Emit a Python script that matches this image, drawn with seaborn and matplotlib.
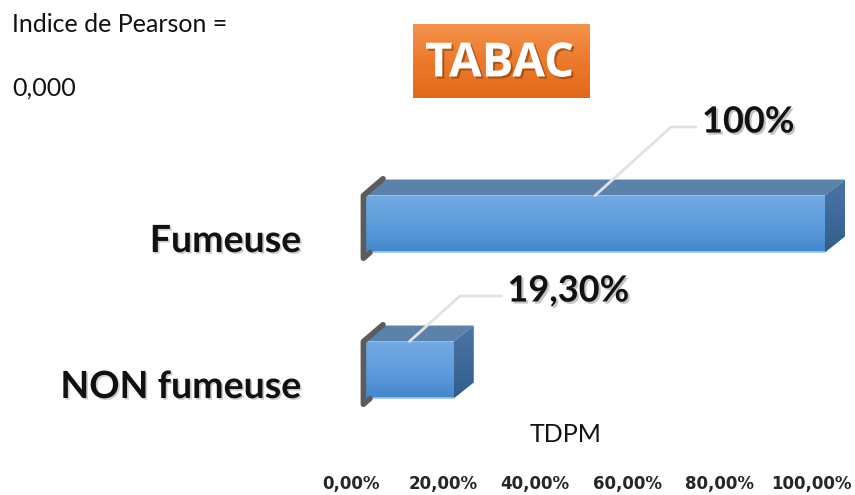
import numpy as np
import pandas as pd
import matplotlib
matplotlib.use("Agg")
import matplotlib.pyplot as plt
import matplotlib.patheffects as pe
from matplotlib.colors import LinearSegmentedColormap
from matplotlib.patches import Polygon
from matplotlib.transforms import ScaledTranslation
import seaborn as sns

# --- data -------------------------------------------------------------
categories = ["Fumeuse", "NON fumeuse"]
tdpm_values = [100.0, 19.3]          # TDPM in %
x_ticks = [0, 20, 40, 60, 80, 100]
x_tick_labels = ["0,00%", "20,00%", "40,00%", "60,00%", "80,00%", "100,00%"]
title_badge = "TABAC"
axis_title = "TDPM"
pearson_lines = ["Indice de Pearson =", "0,000"]

# label placement (offset in pixels from the middle of each bar's top edge)
label_offsets = [(107, 63), (98, 40)]


def fmt_pct(v):
    if float(v).is_integer():
        return f"{int(v)}%"
    return f"{v:.2f}".replace(".", ",") + "%"


sns.set_theme(style="white")
plt.rcParams["font.family"] = ["Lato", "DejaVu Sans"]

DPI = 100
W, H = 855, 495
fig = plt.figure(figsize=(W / DPI, H / DPI), dpi=DPI)

# plot area in pixels
left_px, right_px, top_px, bot_px = 365, 855, 100, 468
ax = fig.add_axes([left_px / W, 1 - bot_px / H,
                   (right_px - left_px) / W, (bot_px - top_px) / H])

df = pd.DataFrame({"cat": categories, "val": tdpm_values})
sns.barplot(data=df, x="val", y="cat", orient="h", ax=ax,
            width=0.39, color="#5b9bd5", saturation=1, zorder=2)

px_per_x = 4.6          # pixels per % unit
px_per_y = 146.0        # pixels per category step
xlim = (0, (right_px - left_px) / px_per_x)
ylim = ((bot_px - 224) / px_per_y, (top_px - 224) / px_per_y)

# 3D depth
dx = 20 / px_per_x
dy = 16 / px_per_y

front_cmap = LinearSegmentedColormap.from_list(
    "front", ["#73aae2", "#5f9ddd", "#4587cd"])
side_cmap = LinearSegmentedColormap.from_list("side", ["#4a76a6", "#345d8b"])
grad = np.linspace(0, 1, 64).reshape(-1, 1)

bars = list(ax.patches)
for bar, val, (ox, oy) in zip(bars, tdpm_values, label_offsets):
    x0 = bar.get_x()
    x1 = x0 + bar.get_width()
    ytop = bar.get_y()
    ybot = ytop + bar.get_height()
    bar.set_facecolor("none")
    bar.set_edgecolor("none")

    # front face with vertical gradient
    im = ax.imshow(grad, extent=(x0, x1, ybot, ytop), aspect="auto",
                   cmap=front_cmap, origin="upper", zorder=2)
    im.set_clip_path(bar)
    ax.plot([x0, x1], [ybot, ybot], color="#9cc4ec", lw=1.2, zorder=3,
            solid_capstyle="butt", clip_on=False)

    # top face
    ax.add_patch(Polygon([(x0, ytop), (x1, ytop), (x1 + dx, ytop - dy),
                          (x0 + dx, ytop - dy)], closed=True,
                         facecolor="#5b82ab", edgecolor="none", zorder=2,
                         clip_on=False))
    # right side face (slanted parallelogram with gradient)
    side = Polygon([(x1, ytop), (x1 + dx, ytop - dy), (x1 + dx, ybot - dy),
                    (x1, ybot)], closed=True, facecolor="none",
                   edgecolor="none", zorder=2)
    ax.add_patch(side)
    im2 = ax.imshow(grad, extent=(x1, x1 + dx, ybot, ytop - dy),
                    aspect="auto", cmap=side_cmap, origin="upper", zorder=2)
    im2.set_clip_path(side)

    # dark left end cap
    ax.plot([x0 + dx * 0.9, x0 - 0.35, x0 - 0.35, x0 + dx * 0.25],
            [ytop - dy * 1.05, ytop, ybot + 0.04, ybot],
            color="#5c5c5c", lw=4, solid_joinstyle="round",
            solid_capstyle="round", zorder=3, clip_on=False)

    # value label with leader line
    ax.annotate(fmt_pct(val), xy=(val / 2, ytop), xytext=(ox, oy),
                textcoords="offset pixels", ha="left", va="baseline",
                fontsize=26, fontweight="bold", color="#111111",
                path_effects=[pe.SimplePatchShadow(offset=(1.5, -1.5),
                                                   shadow_rgbFace="#888888",
                                                   alpha=0.5), pe.Normal()],
                arrowprops=dict(arrowstyle="-", color="#e2e2e2", lw=2,
                                relpos=(0, 0.35), shrinkA=2, shrinkB=0,
                                connectionstyle="angle,angleA=0,angleB=42"),
                zorder=5, annotation_clip=False)

ax.set_xlim(*xlim)
ax.set_ylim(*ylim)

# axes cosmetics
for s in ax.spines.values():
    s.set_visible(False)
ax.grid(False)
ax.set_xlabel("")
ax.set_ylabel("")
ax.tick_params(axis="both", length=0)

ax.set_xticks(x_ticks)
ax.set_xticklabels(x_tick_labels, fontsize=12, fontweight="bold",
                   color="#262626", family=["DejaVu Sans"])
ax.tick_params(axis="x", pad=5)
shift_x = ScaledTranslation(-14 / DPI, 0, fig.dpi_scale_trans)
for lab in ax.get_xticklabels():
    lab.set_transform(lab.get_transform() + shift_x)

ax.set_yticks(range(len(categories)))
ax.set_yticklabels(categories, fontsize=27, fontweight="bold",
                   color="#111111")
ax.tick_params(axis="y", pad=46)
shift_y = ScaledTranslation(0, -14 / DPI, fig.dpi_scale_trans)
for lab in ax.get_yticklabels():
    lab.set_transform(lab.get_transform() + shift_y)
    lab.set_path_effects([pe.SimplePatchShadow(offset=(1.2, -1.2),
                                               shadow_rgbFace="#999999",
                                               alpha=0.5), pe.Normal()])

# axis title
fig.text(566 / W, 1 - 442 / H, axis_title, ha="center", va="baseline",
         fontsize=18, color="#111111")

# Pearson index note
fig.text(12 / W, 1 - 32 / H, pearson_lines[0], ha="left", va="baseline",
         fontsize=18, color="#111111")
fig.text(12 / W, 1 - 96 / H, pearson_lines[1], ha="left", va="baseline",
         fontsize=18, color="#111111")

# orange badge
bx0, bx1, by0, by1 = 413, 590, 24, 98
bax = fig.add_axes([bx0 / W, 1 - by1 / H, (bx1 - bx0) / W, (by1 - by0) / H])
badge_cmap = LinearSegmentedColormap.from_list(
    "badge", ["#f4924a", "#ec7a2c", "#e2691a"])
bax.imshow(grad, extent=(0, 1, 0, 1), aspect="auto", cmap=badge_cmap,
           origin="upper")
bax.set_xlim(0, 1)
bax.set_ylim(0, 1)
bax.axis("off")
bax.text(0.49, 0.46, title_badge, ha="center", va="center",
         fontsize=34, fontweight="bold", color="white",
         family=["Open Sans", "DejaVu Sans"],
         path_effects=[pe.SimplePatchShadow(offset=(1.5, -1.5),
                                            shadow_rgbFace="#8a3a05",
                                            alpha=0.6), pe.Normal()])

fig.savefig("out.png", dpi=DPI, facecolor="white")
